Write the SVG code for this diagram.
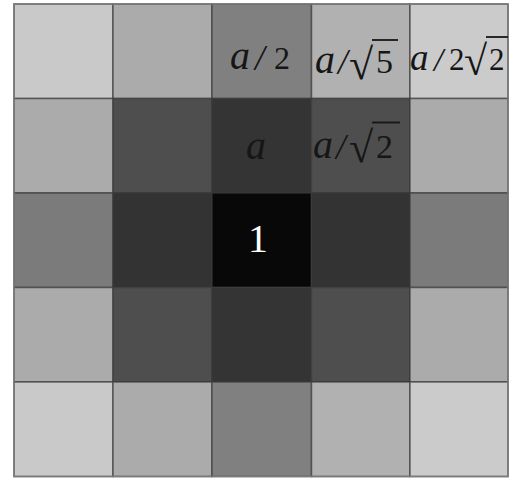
<svg xmlns="http://www.w3.org/2000/svg" width="514" height="481" viewBox="0 0 514 481">
<style>
.c{stroke:#3a3a3a;stroke-width:1.5;stroke-opacity:0.7}
.t{font-family:"Liberation Serif","Times New Roman",serif;fill:#161616}
.i{font-style:italic}
.s{font-size:35px}
.ov{stroke:#161616;stroke-width:1.8}
</style>
<rect width="514" height="481" fill="#ffffff"/>
<g id="grid">
<g id="r0">
<rect class="c" x="14" y="4" width="99" height="94.5" fill="#c9c9c9"/>
<rect class="c" x="113" y="4" width="99" height="94.5" fill="#ababab"/>
<rect class="c" x="212" y="4" width="99.5" height="94.5" fill="#808080"/>
<rect class="c" x="311.5" y="4" width="98.5" height="94.5" fill="#b1b1b1"/>
<rect class="c" x="410" y="4" width="98" height="94.5" fill="#cbcbcb"/>
</g>
<g id="r1">
<rect class="c" x="14" y="98.5" width="99" height="94.5" fill="#ababab"/>
<rect class="c" x="113" y="98.5" width="99" height="94.5" fill="#4e4e4e"/>
<rect class="c" x="212" y="98.5" width="99.5" height="94.5" fill="#343434"/>
<rect class="c" x="311.5" y="98.5" width="98.5" height="94.5" fill="#4e4e4e"/>
<rect class="c" x="410" y="98.5" width="98" height="94.5" fill="#ababab"/>
</g>
<g id="r2">
<rect class="c" x="14" y="193" width="99" height="94.5" fill="#7b7b7b"/>
<rect class="c" x="113" y="193" width="99" height="94.5" fill="#333333"/>
<rect class="c" x="212" y="193" width="99.5" height="94.5" fill="#080808"/>
<rect class="c" x="311.5" y="193" width="98.5" height="94.5" fill="#333333"/>
<rect class="c" x="410" y="193" width="98" height="94.5" fill="#7b7b7b"/>
</g>
<g id="r3">
<rect class="c" x="14" y="287.5" width="99" height="94.5" fill="#ababab"/>
<rect class="c" x="113" y="287.5" width="99" height="94.5" fill="#4e4e4e"/>
<rect class="c" x="212" y="287.5" width="99.5" height="94.5" fill="#343434"/>
<rect class="c" x="311.5" y="287.5" width="98.5" height="94.5" fill="#4e4e4e"/>
<rect class="c" x="410" y="287.5" width="98" height="94.5" fill="#ababab"/>
</g>
<g id="r4">
<rect class="c" x="14" y="382" width="99" height="94.5" fill="#c9c9c9"/>
<rect class="c" x="113" y="382" width="99" height="94.5" fill="#ababab"/>
<rect class="c" x="212" y="382" width="99.5" height="94.5" fill="#808080"/>
<rect class="c" x="311.5" y="382" width="98.5" height="94.5" fill="#b1b1b1"/>
<rect class="c" x="410" y="382" width="98" height="94.5" fill="#cbcbcb"/>
</g>
<rect x="14" y="4" width="494" height="472.5" fill="none" stroke="#7a7a7a" stroke-width="1.5"/>
</g>
<g id="labels">
<g id="l-a2">
<text class="t i" x="230" y="69" font-size="40">a</text>
<text class="t i s" x="255" y="70">/</text>
<text class="t" x="274" y="69" font-size="32">2</text>
</g>
<g id="l-a5">
<text class="t i" x="315" y="73" font-size="40">a</text>
<text class="t i s" x="338" y="74">/</text>
<text class="t" x="349" y="79" font-size="44">√</text>
<text class="t" x="376" y="73" font-size="34">5</text>
<line class="ov" x1="372" y1="40" x2="398" y2="40"/>
</g>
<g id="l-a22">
<text class="t i" x="410" y="70" font-size="37">a</text>
<text class="t i" x="434" y="71" font-size="33">/</text>
<text class="t" x="449" y="70" font-size="31">2</text>
<text class="t" x="464" y="75" font-size="42">√</text>
<text class="t" x="489" y="70" font-size="31">2</text>
<line class="ov" x1="486" y1="37" x2="508" y2="37"/>
</g>
<g id="l-a">
<text class="t i" x="246" y="159" font-size="40">a</text>
</g>
<g id="l-a2r">
<text class="t i" x="313" y="158" font-size="40">a</text>
<text class="t i s" x="336" y="159">/</text>
<text class="t" x="349" y="161.5" font-size="44">√</text>
<text class="t" x="376" y="158" font-size="34">2</text>
<line class="ov" x1="372" y1="122.5" x2="400" y2="122.5"/>
</g>
<g id="l-1">
<text class="t" x="258" y="252" font-size="40" style="fill:#ffffff" text-anchor="middle">1</text>
</g>
</g>
</svg>
